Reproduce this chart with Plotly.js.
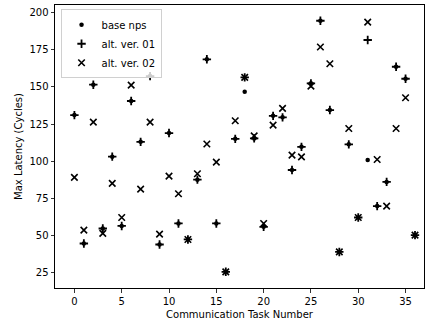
<!DOCTYPE html>
<html>
<head>
<meta charset="utf-8">
<script src="https://cdn.plot.ly/plotly-3.0.1.min.js"></script>
<style>html,body{margin:0;padding:0;background:#fff;}#chart{width:426px;height:326px;}</style>
</head>
<body>
<div id="chart"></div>
<script>
const tasks = [0,1,2,3,4,5,6,7,8,9,10,11,12,13,14,15,16,17,18,19,20,21,22,23,24,25,26,27,28,29,30,31,32,33,34,35,36];
const baseNps = [131,44.5,151.5,54.6,103,56.3,140.5,113,157.3,43.8,118.9,58,47.2,87.5,168.6,58,25.4,115,146.7,115.3,55.7,130.5,129.5,94,109.6,152.4,194.6,134.4,38.8,111.3,62,100.7,69.7,86,163.6,155.5,50.1];
const altVer01 = [131,44.5,151.5,54.6,103,56.3,140.5,113,157.3,43.8,118.9,58,47.2,87.5,168.6,58,25.4,115,156.4,115.3,55.7,130.5,129.5,94,109.6,152.4,194.6,134.4,38.8,111.3,62,181.6,69.7,86,163.6,155.5,50.1];
const altVer02 = [89,53.5,126.3,51.3,85,62,151.2,81.1,126.3,50.8,89.9,78,47.2,91.5,111.5,99.3,25.4,127.2,156.4,117,58,124.3,135.5,104,102.9,150.5,176.9,165.6,38.8,122,62,193.7,101.1,69.7,122,142.7,50.1];
const seriesNames = ['base nps','alt. ver. 01','alt. ver. 02'];

const font = {family:'DejaVu Sans, sans-serif', size:10, color:'#000'};
const traces = [
  {x:tasks, y:baseNps, name:seriesNames[0], mode:'markers', type:'scatter',
   marker:{symbol:'circle', size:4.5, color:'#000'}},
  {x:tasks, y:altVer01, name:seriesNames[1], mode:'markers', type:'scatter',
   marker:{symbol:'cross-thin', size:6, color:'#000', line:{width:1.8, color:'#000'}}},
  {x:tasks, y:altVer02, name:seriesNames[2], mode:'markers', type:'scatter',
   marker:{symbol:'x-thin', size:6.5, color:'#000', line:{width:1.6, color:'#000'}}}
];
const axisCommon = {showline:true, linecolor:'#000', linewidth:1, mirror:true, ticks:'outside',
  ticklen:3.5, tickwidth:0.8, tickcolor:'#000', showgrid:false, zeroline:false, tickfont:font};
const layout = {
  width:426, height:326, paper_bgcolor:'#fff', plot_bgcolor:'#fff', font:font,
  margin:{l:55, r:2, t:5, b:38},
  showlegend:true,
  legend:{x:0.015, y:0.985, xanchor:'left', yanchor:'top', bgcolor:'rgba(255,255,255,0.8)',
    bordercolor:'#d0d0d0', borderwidth:1, font:font, itemwidth:30, tracegroupgap:0},
  xaxis:Object.assign({}, axisCommon, {range:[-2.05,36.95], tickmode:'array', tickvals:[0,5,10,15,20,25,30,35],
    title:{text:'Communication Task Number', font:font, standoff:5}}),
  yaxis:Object.assign({}, axisCommon, {range:[14.5,205.2], tickmode:'array', tickvals:[25,50,75,100,125,150,175,200],
    title:{text:'Max Latency (Cycles)', font:font, standoff:4}})
};
Plotly.newPlot('chart', traces, layout, {staticPlot:true, displayModeBar:false});
</script>
</body>
</html>
